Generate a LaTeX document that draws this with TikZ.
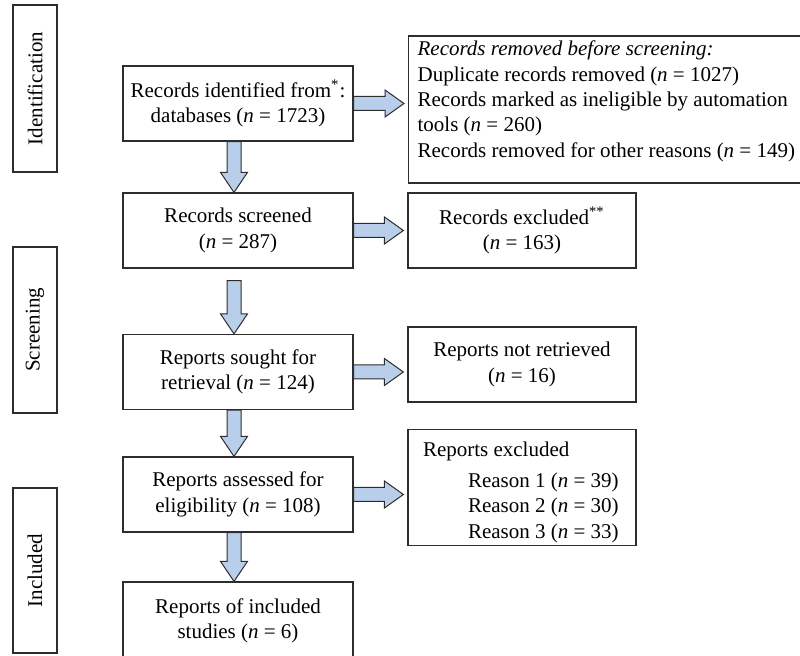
\documentclass[tikz,border=0pt]{standalone}
\usepackage{fontspec}
\setmainfont{Liberation Serif}
\usetikzlibrary{calc}

\definecolor{arrowblue}{RGB}{184,206,234}
\definecolor{edgegray}{RGB}{45,45,45}

\tikzset{
  stage/.style={draw=edgegray, line width=0.6pt, align=center, inner sep=0pt,
    font=\fontsize{10.5}{12.7}\selectfont},
  mainbox/.style={stage, minimum width=115pt, minimum height=37.5pt},
  sidebox/.style={stage, minimum width=114pt, minimum height=37.5pt},
  phase/.style={stage, rotate=90, minimum height=22pt},
  fatdown/.style={draw=edgegray, fill=arrowblue, line width=0.5pt, to path={
      let \p1=(\tikztostart.south), \p2=(\tikztotarget.north) in
      (\x1-5.5pt,\y1-#1) -- (\x1-5.5pt,\y2+10pt) -- (\x1-8.75pt,\y2+10pt) -- (\x1-2pt,\y2)
      -- (\x1+4.75pt,\y2+10pt) -- (\x1+1.5pt,\y2+10pt) -- (\x1+1.5pt,\y1-#1) -- cycle}},
  fatdown/.default=0pt,
  fatright/.style={draw=edgegray, fill=arrowblue, line width=0.5pt, to path={
      let \p1=(\tikztostart.east), \p2=(\tikztotarget.west) in
      (\x1,\y1+3.5pt) -- (\x2-11.5pt,\y1+3.5pt) -- (\x2-11.5pt,\y1+6.75pt) -- (\x2-2pt,\y1)
      -- (\x2-11.5pt,\y1-6.75pt) -- (\x2-11.5pt,\y1-3.5pt) -- (\x1,\y1-3.5pt) -- cycle}},
}

\begin{document}
\begin{tikzpicture}[x=0.5pt, y=-0.5pt]
    \useasboundingbox (0,0) rectangle (800,656);

    % phases
    \node[phase, minimum width=83.5pt] (pident) at (35,88.5) {Identification};
    \node[phase, minimum width=83pt] (pscreen) at (35,330) {Screening};
    \node[phase, minimum width=82.5pt] (pincl) at (35,570.5) {Included};

    % main column
    \node[mainbox] (ident) at (238,103.5) {Records identified from\textsuperscript{*}:\\ databases (\textit{n} = 1723)};
    \node[mainbox] (screened) at (238,230.5) {Records screened\\ (\textit{n} = 287)};
    \node[mainbox] (sought) at (238,372) {Reports sought for\\ retrieval (\textit{n} = 124)};
    \node[mainbox] (assessed) at (238,494.5) {Reports assessed for\\ eligibility (\textit{n} = 108)};
    \node[mainbox, minimum height=39pt] (studies) at (238,621) {Reports of included\\ studies (\textit{n} = 6)};

    % side column
    \node[stage, anchor=west, inner xsep=4.5pt, minimum height=73.5pt]
        (removed) at (408,109.5) {\begin{tabular}{@{}l@{}}
        \textit{Records removed before screening:}\\
        Duplicate records removed (\textit{n} = 1027)\\
        Records marked as ineligible by automation\\
        tools (\textit{n} = 260)\\
        Records removed for other reasons (\textit{n} = 149)\\[8pt]
        \end{tabular}};
    \node[sidebox] (excluded) at (522,230.5) {Records excluded\textsuperscript{**}\\ (\textit{n} = 163)};
    \node[sidebox] (notret) at (522,364.5) {Reports not retrieved\\ (\textit{n} = 16)};
    \node[sidebox, inner xsep=7.5pt, minimum height=57.5pt]
        (repexcl) at (522,487.5) {\begin{tabular}{@{}p{99pt}@{}}
        \rule{0pt}{13.9pt}Reports excluded\\[2.5pt]
        \hspace*{22.5pt}Reason 1 (\textit{n} = 39)\\
        \hspace*{22.5pt}Reason 2 (\textit{n} = 30)\\
        \hspace*{22.5pt}Reason 3 (\textit{n} = 33)
        \end{tabular}};

    % block arrows
    \draw[fatdown] (ident) to (screened);
    \draw[fatdown=6pt] (screened) to (sought);
    \draw[fatdown] (sought) to (assessed);
    \draw[fatdown] (assessed) to (studies);
    \draw[fatright] (ident) to (removed);
    \draw[fatright] (screened) to (excluded);
    \draw[fatright] (sought) to (notret);
    \draw[fatright] (assessed) to (repexcl);
\end{tikzpicture}
\end{document}
